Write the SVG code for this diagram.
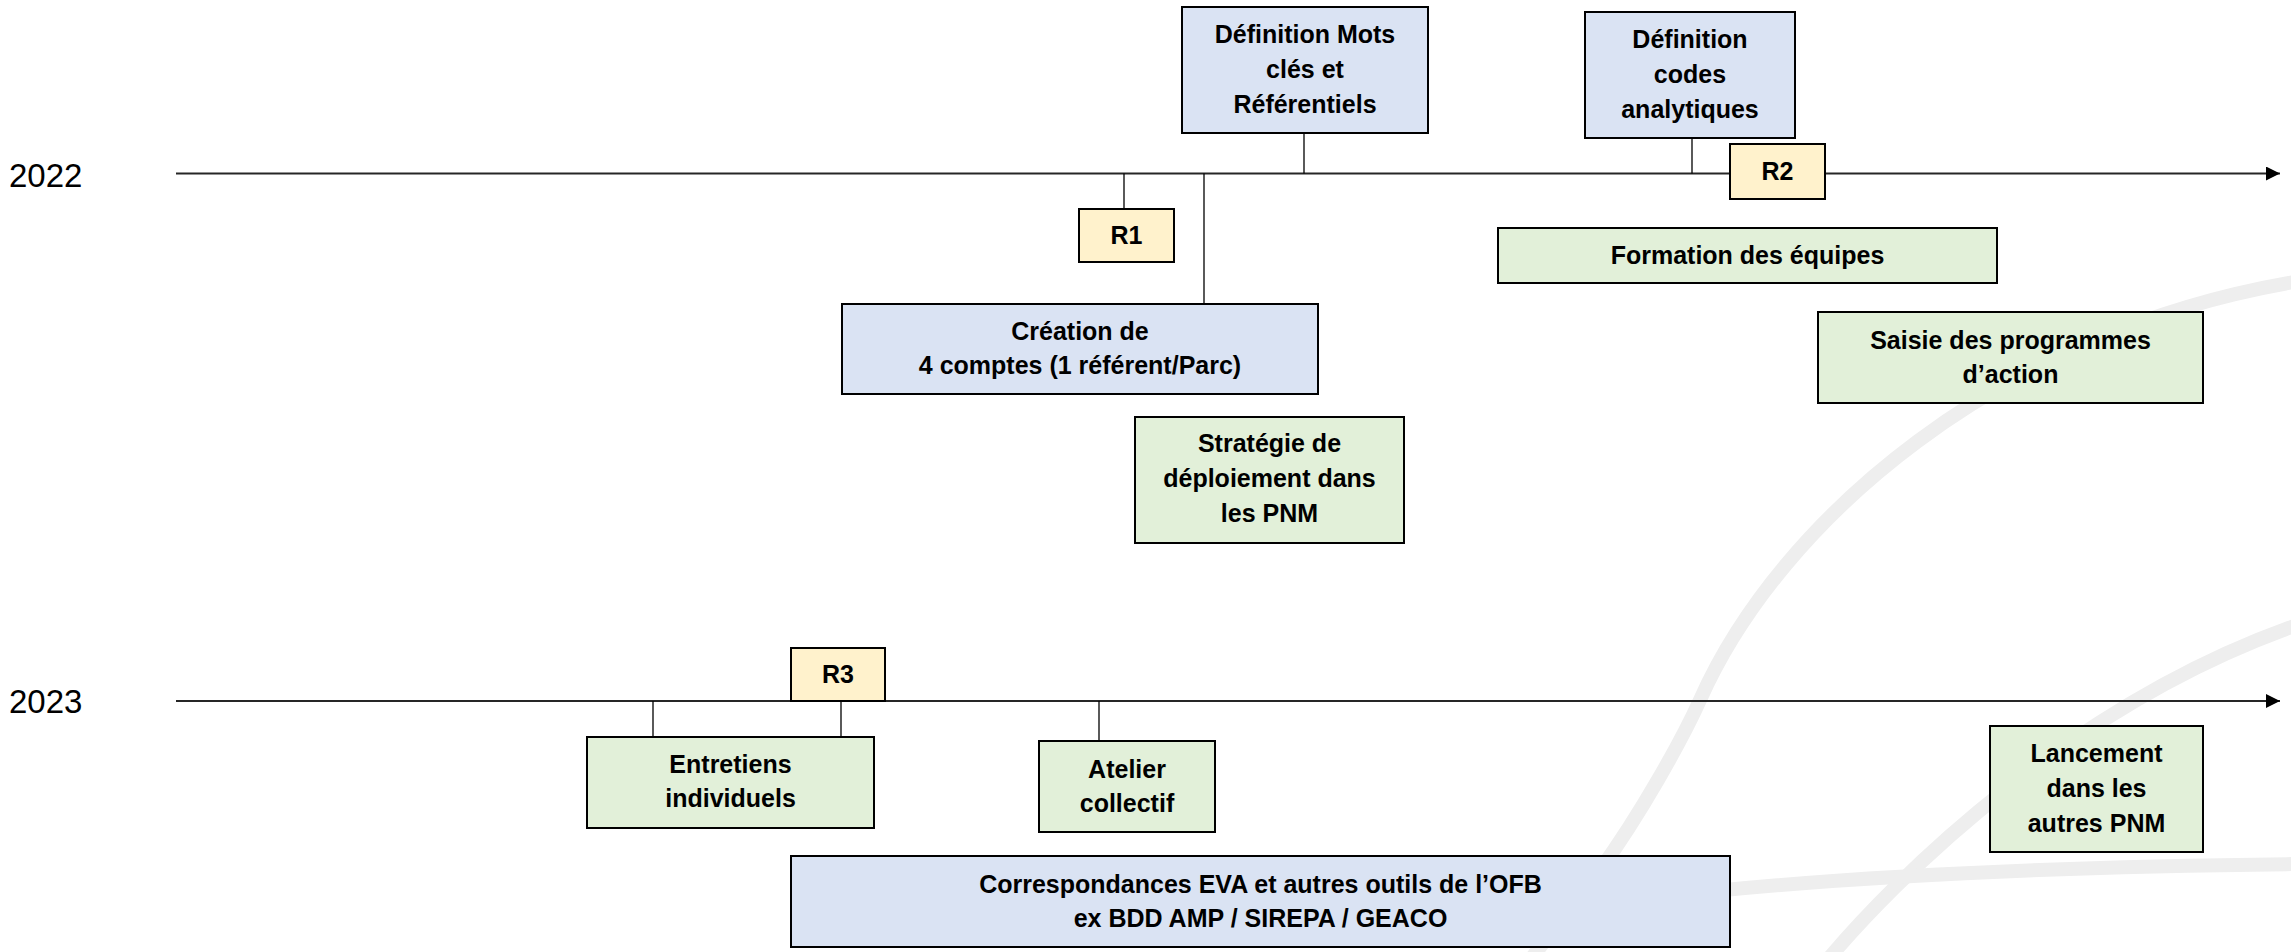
<svg xmlns="http://www.w3.org/2000/svg" width="2291" height="952" viewBox="0 0 2291 952">
  <defs>
    <marker id="arrow" viewBox="0 0 14 14" refX="14" refY="7" markerWidth="14" markerHeight="14" markerUnits="userSpaceOnUse" orient="auto">
      <path d="M0,0 L14,7 L0,14 Z" fill="#000"/>
    </marker>
  </defs>
  <style>
    .wm { fill: none; stroke: #EEEEEE; stroke-width: 14; stroke-linecap: butt; }
    .axis { stroke: #262626; stroke-width: 2; fill: none; }
    .conn { stroke: #000; stroke-width: 1.3; fill: none; }
    .box { stroke: #000; stroke-width: 2; }
    .blue { fill: #DAE3F3; }
    .green { fill: #E2F0D9; }
    .yellow { fill: #FFF2CC; }
    .t { font-family: "Liberation Sans", Arial, sans-serif; font-weight: bold; font-size: 25px; fill: #000; text-anchor: middle; }
    .year { font-family: "Liberation Sans", Arial, sans-serif; font-size: 33px; fill: #000; }
  </style>
  <rect x="0" y="0" width="2291" height="952" fill="#FFFFFF"/>

  <g id="watermark">
    <path class="wm" d="M2300,281 C2000,330 1780,520 1700,700 C1682,740 1640,815 1600,870 L1530,960"/>
    <path class="wm" d="M1815,975 C1900,870 2080,700 2300,624"/>
    <path class="wm" d="M1650,898 Q1900,868 2300,864"/>
  </g>

  <g id="labels">
    <text class="year" x="9" y="187">2022</text>
    <text class="year" x="9" y="713">2023</text>
  </g>

  <g id="connectors">
    <line class="axis" x1="176" y1="173.5" x2="2280" y2="173.5" marker-end="url(#arrow)"/>
    <line class="axis" x1="176" y1="701" x2="2280" y2="701" marker-end="url(#arrow)"/>
    <line class="conn" x1="1304" y1="133" x2="1304" y2="173.5"/>
    <line class="conn" x1="1692" y1="138" x2="1692" y2="173.5"/>
    <line class="conn" x1="1124" y1="173.5" x2="1124" y2="209"/>
    <line class="conn" x1="1204" y1="173.5" x2="1204" y2="304"/>
    <line class="conn" x1="653" y1="701" x2="653" y2="737"/>
    <line class="conn" x1="841" y1="701" x2="841" y2="737"/>
    <line class="conn" x1="1099" y1="701" x2="1099" y2="741"/>
  </g>

  <g id="defmots">
    <rect class="box blue" x="1182" y="7" width="246" height="126"/>
    <text class="t" x="1305" y="43">Définition Mots</text>
    <text class="t" x="1305" y="78">clés et</text>
    <text class="t" x="1305" y="113">Référentiels</text>
  </g>

  <g id="defcodes">
    <rect class="box blue" x="1585" y="12" width="210" height="126"/>
    <text class="t" x="1690" y="48">Définition</text>
    <text class="t" x="1690" y="83">codes</text>
    <text class="t" x="1690" y="118">analytiques</text>
  </g>

  <g id="r2">
    <rect class="box yellow" x="1730" y="144" width="95" height="55"/>
    <text class="t" x="1777.5" y="180">R2</text>
  </g>

  <g id="r1">
    <rect class="box yellow" x="1079" y="209" width="95" height="53"/>
    <text class="t" x="1126.5" y="244">R1</text>
  </g>

  <g id="creation">
    <rect class="box blue" x="842" y="304" width="476" height="90"/>
    <text class="t" x="1080" y="340">Création de</text>
    <text class="t" x="1080" y="374">4 comptes (1 référent/Parc)</text>
  </g>

  <g id="strategie">
    <rect class="box green" x="1135" y="417" width="269" height="126"/>
    <text class="t" x="1269.5" y="452">Stratégie de</text>
    <text class="t" x="1269.5" y="487">déploiement dans</text>
    <text class="t" x="1269.5" y="522">les PNM</text>
  </g>

  <g id="formation">
    <rect class="box green" x="1498" y="228" width="499" height="55"/>
    <text class="t" x="1747.5" y="264">Formation des équipes</text>
  </g>

  <g id="saisie">
    <rect class="box green" x="1818" y="312" width="385" height="91"/>
    <text class="t" x="2010.5" y="349">Saisie des programmes</text>
    <text class="t" x="2010.5" y="383">d’action</text>
  </g>

  <g id="r3">
    <rect class="box yellow" x="791" y="648" width="94" height="53"/>
    <text class="t" x="838" y="683">R3</text>
  </g>

  <g id="entretiens">
    <rect class="box green" x="587" y="737" width="287" height="91"/>
    <text class="t" x="730.5" y="773">Entretiens</text>
    <text class="t" x="730.5" y="807">individuels</text>
  </g>

  <g id="atelier">
    <rect class="box green" x="1039" y="741" width="176" height="91"/>
    <text class="t" x="1127" y="778">Atelier</text>
    <text class="t" x="1127" y="812">collectif</text>
  </g>

  <g id="lancement">
    <rect class="box green" x="1990" y="726" width="213" height="126"/>
    <text class="t" x="2096.5" y="762">Lancement</text>
    <text class="t" x="2096.5" y="797">dans les</text>
    <text class="t" x="2096.5" y="832">autres PNM</text>
  </g>

  <g id="correspondances">
    <rect class="box blue" x="791" y="856" width="939" height="91"/>
    <text class="t" x="1260.5" y="893">Correspondances EVA et autres outils de l’OFB</text>
    <text class="t" x="1260.5" y="927">ex BDD AMP / SIREPA / GEACO</text>
  </g>
</svg>
